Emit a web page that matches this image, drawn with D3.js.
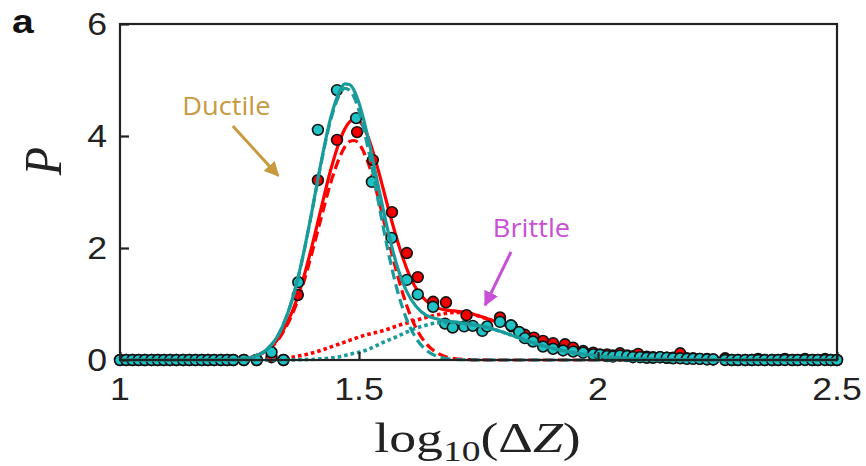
<!DOCTYPE html>
<html>
<head>
<meta charset="utf-8">
<script src="https://cdn.jsdelivr.net/npm/d3@7"></script>
<style>
  body { margin: 0; background: #fff; }
  svg { display: block; }
</style>
</head>
<body>
<script>
// Fitted probability densities on a shared log10(ΔZ) grid
const curveX = [1.00, 1.20, 1.25, 1.28, 1.30, 1.31, 1.33, 1.34, 1.36, 1.38, 1.40, 1.42, 1.44, 1.46, 1.47, 1.48, 1.49, 1.50, 1.52, 1.54,
                1.56, 1.58, 1.60, 1.62, 1.64, 1.66, 1.68, 1.70, 1.73, 1.76, 1.80, 1.85, 1.90, 1.95, 2.00, 2.05, 2.10, 2.20, 2.30, 2.50];

const tealTotal   = [0, 0.001, 0.014, 0.06, 0.14, 0.21, 0.43, 0.60, 1.07, 1.75, 2.59, 3.50, 4.30, 4.81, 4.93, 4.92, 4.81, 4.59, 3.93, 3.12,
                     2.33, 1.67, 1.22, 0.95, 0.80, 0.74, 0.70, 0.68, 0.64, 0.60, 0.50, 0.35, 0.22, 0.13, 0.07, 0.035, 0.015, 0.002, 0, 0];
const tealDuctile = [0, 0.001, 0.014, 0.06, 0.14, 0.21, 0.43, 0.60, 1.07, 1.74, 2.58, 3.48, 4.26, 4.75, 4.85, 4.82, 4.69, 4.45, 3.74, 2.85,
                     1.98, 1.25, 0.72, 0.38, 0.18, 0.077, 0.03, 0.01, 0.003, 0, 0, 0, 0, 0, 0, 0, 0, 0, 0, 0];
const tealBrittle = [0, 0, 0, 0, 0, 0, 0, 0, 0.002, 0.005, 0.01, 0.02, 0.035, 0.06, 0.08, 0.10, 0.12, 0.14, 0.19, 0.27,
                     0.35, 0.42, 0.50, 0.57, 0.62, 0.66, 0.67, 0.67, 0.64, 0.60, 0.50, 0.35, 0.22, 0.13, 0.07, 0.035, 0.015, 0.002, 0, 0];

const redTotal    = [0, 0.001, 0.017, 0.06, 0.135, 0.19, 0.37, 0.51, 0.86, 1.35, 1.98, 2.68, 3.37, 3.92, 4.12, 4.25, 4.30, 4.27, 3.96, 3.40,
                     2.75, 2.14, 1.63, 1.27, 1.06, 0.945, 0.894, 0.876, 0.836, 0.761, 0.64, 0.48, 0.32, 0.19, 0.10, 0.05, 0.02, 0.003, 0, 0];
const redDuctile  = [0, 0.001, 0.017, 0.06, 0.13, 0.18, 0.35, 0.48, 0.81, 1.27, 1.86, 2.51, 3.14, 3.63, 3.80, 3.90, 3.92, 3.86, 3.50, 2.90,
                     2.20, 1.53, 0.97, 0.56, 0.30, 0.145, 0.064, 0.026, 0.006, 0.001, 0, 0, 0, 0, 0, 0, 0, 0, 0, 0];
const redBrittle  = [0, 0, 0, 0, 0.005, 0.01, 0.02, 0.03, 0.05, 0.08, 0.12, 0.17, 0.23, 0.29, 0.32, 0.35, 0.38, 0.41, 0.46, 0.50,
                     0.55, 0.61, 0.66, 0.71, 0.76, 0.80, 0.83, 0.85, 0.83, 0.76, 0.64, 0.48, 0.32, 0.19, 0.10, 0.05, 0.02, 0.003, 0, 0];

// Measured histogram points [log10(ΔZ), P]
const redPoints = [
  [1.000,0],[1.013,0],[1.026,0],[1.039,0],[1.052,0],[1.066,0],[1.079,0],[1.092,0],[1.105,0],[1.118,0],
  [1.132,0],[1.145,0],[1.158,0],[1.171,0],[1.184,0],[1.197,0],[1.211,0],[1.224,0],[1.237,0],[1.259,0],
  [1.286,0],[1.317,0.05],[1.342,0],
  [1.372,1.16],[1.414,3.21],[1.454,3.93],[1.496,4.07],[1.529,3.57],[1.569,2.64],[1.600,1.91],[1.623,1.48],
  [1.655,1.04],[1.682,1.03],[1.725,0.80],[1.795,0.76],[1.820,0.60],[1.847,0.45],[1.866,0.40],[1.885,0.34],
  [1.906,0.30],[1.931,0.28],[1.948,0.22],[1.969,0.16],[1.990,0.13],
  [2.004,0.10],[2.019,0.10],[2.031,0.08],[2.046,0.12],[2.061,0.08],[2.073,0.07],[2.084,0.11],[2.102,0.06],
  [2.115,0.05],[2.130,0.05],[2.144,0.04],[2.157,0.04],[2.172,0.12],[2.186,0.03],[2.199,0.03],[2.213,0.02],
  [2.228,0.02],[2.241,0.01],
  [2.266,0.03],[2.280,0],[2.293,0],[2.308,0],[2.322,0],[2.335,0.02],[2.349,0],[2.364,0],[2.377,0],
  [2.391,0.02],[2.406,0],[2.418,0],[2.433,0.02],[2.448,0],[2.460,0],[2.475,0.02],[2.487,0],[2.500,0]
];
const tealPoints = [
  [1.000,0],[1.013,0],[1.026,0],[1.039,0],[1.052,0],[1.066,0],[1.079,0],[1.092,0],[1.105,0],[1.118,0],
  [1.132,0],[1.145,0],[1.158,0],[1.171,0],[1.184,0],[1.197,0],[1.211,0],[1.224,0],[1.237,0],[1.259,0],
  [1.286,0],[1.317,0.14],[1.342,0],
  [1.373,1.39],[1.414,4.11],[1.454,4.82],[1.494,4.32],[1.527,3.18],[1.568,2.18],[1.600,1.43],[1.623,1.17],
  [1.655,0.95],[1.680,0.65],[1.696,0.58],[1.720,0.60],[1.738,0.61],[1.758,0.52],[1.768,0.60],[1.795,0.68],
  [1.818,0.62],[1.835,0.50],[1.847,0.39],[1.864,0.33],[1.885,0.24],[1.906,0.20],[1.927,0.17],[1.948,0.15],
  [1.969,0.13],[1.990,0.10],
  [2.004,0.09],[2.019,0.07],[2.031,0.06],[2.046,0.08],[2.061,0.07],[2.073,0.05],[2.088,0.05],[2.102,0.04],
  [2.115,0.04],[2.130,0.05],[2.144,0.04],[2.157,0.03],[2.172,0.03],[2.186,0.02],[2.199,0.02],[2.213,0.02],
  [2.228,0.01],[2.241,0.01],
  [2.266,0],[2.280,0],[2.293,0],[2.308,0],[2.322,0],[2.335,0],[2.349,0],[2.364,0],[2.377,0],
  [2.391,0],[2.406,0],[2.418,0],[2.433,0],[2.448,0],[2.460,0],[2.475,0],[2.487,0],[2.500,0]
];

const xTicks = [1, 1.5, 2, 2.5];
const xTickLabels = ["1", "1.5", "2", "2.5"];
const yTicks = [0, 2, 4, 6];
const yTickLabels = ["0", "2", "4", "6"];

const W = 866, H = 466;
const SX = 1.15; // horizontal stretch of the typesetting

const svg = d3.select("body").append("svg").attr("width", W).attr("height", H);

const x = d3.scaleLinear().domain([1, 2.5]).range([120, 837]);
const y = d3.scaleLinear().domain([0, 6]).range([360, 24]);

const TEAL_LINE = "#1a9b9b";
const TEAL_FILL = "#1fc3c6";
const RED_LINE = "#ff0000";
const RED_FILL = "#f20000";

const line = d3.line().x(d => x(d[0])).y(d => y(d[1])).curve(d3.curveMonotoneX);
const zipCurve = vals => curveX.map((v, i) => [v, vals[i]]);

const plot = svg.append("g");

function drawCurves(color, ductile, brittle, total) {
  plot.append("path").attr("d", line(zipCurve(ductile)))
    .attr("fill", "none").attr("stroke", color).attr("stroke-width", 3.2)
    .attr("stroke-dasharray", "10,5");
  plot.append("path").attr("d", line(zipCurve(brittle)))
    .attr("fill", "none").attr("stroke", color).attr("stroke-width", 3.6)
    .attr("stroke-dasharray", "3.6,3");
  plot.append("path").attr("d", line(zipCurve(total)))
    .attr("fill", "none").attr("stroke", color).attr("stroke-width", 3.2);
}
function drawPoints(points, fill) {
  plot.append("g").selectAll("circle").data(points).join("circle")
    .attr("cx", d => x(d[0])).attr("cy", d => y(d[1])).attr("r", 5.4)
    .attr("fill", fill).attr("stroke", "#111").attr("stroke-width", 1.6);
}

// Axis frame
svg.append("rect").attr("x", x(1)).attr("y", y(6))
  .attr("width", x(2.5) - x(1)).attr("height", y(0) - y(6))
  .attr("fill", "none").attr("stroke", "#222").attr("stroke-width", 2.2);

drawCurves(RED_LINE, redDuctile, redBrittle, redTotal);
drawPoints(redPoints, RED_FILL);
drawPoints(tealPoints, TEAL_FILL);
drawCurves(TEAL_LINE, tealDuctile, tealBrittle, tealTotal);

// Inward ticks on the bottom and left axes
const axes = svg.append("g");
const xAxis = d3.axisBottom(x).tickValues(xTicks).tickSize(-8).tickFormat("");
const yAxis = d3.axisLeft(y).tickValues(yTicks).tickSize(-9).tickFormat("");
axes.append("g").attr("transform", `translate(0,${y(0)})`).call(xAxis)
  .call(g => g.select(".domain").remove())
  .call(g => g.selectAll("line").attr("stroke", "#222").attr("stroke-width", 2.2));
axes.append("g").attr("transform", `translate(${x(1)},0)`).call(yAxis)
  .call(g => g.select(".domain").remove())
  .call(g => g.selectAll("line").attr("stroke", "#222").attr("stroke-width", 2.2));

const sansFont = "'Liberation Sans', Arial, Helvetica, sans-serif";
const serifFont = "'Liberation Serif', 'Times New Roman', serif";

// Tick labels
xTicks.forEach((t, i) => {
  svg.append("text")
    .attr("transform", `translate(${x(t)},${y(0) + 40}) scale(${SX},1)`)
    .attr("text-anchor", "middle").attr("font-family", sansFont).attr("font-size", 31)
    .attr("fill", "#222").text(xTickLabels[i]);
});
yTicks.forEach((t, i) => {
  svg.append("text")
    .attr("transform", `translate(${x(1) - 13},${y(t) + 11}) scale(${SX},1)`)
    .attr("text-anchor", "end").attr("font-family", sansFont).attr("font-size", 31)
    .attr("fill", "#222").text(yTickLabels[i]);
});

// Axis titles
const xt = svg.append("text")
  .attr("transform", `translate(${(x(1) + x(2.5)) / 2 - 1},452) scale(1.25,1)`)
  .attr("text-anchor", "middle").attr("font-family", serifFont).attr("font-size", 43)
  .attr("fill", "#222");
xt.append("tspan").text("log");
xt.append("tspan").attr("font-size", 30).attr("dy", 9).text("10");
xt.append("tspan").attr("dy", -9).text("(Δ");
xt.append("tspan").attr("font-style", "italic").text("Z");
xt.append("tspan").text(")");

svg.append("text")
  .attr("transform", `translate(61,${y(3.55)}) rotate(-90) scale(1,${SX})`)
  .attr("text-anchor", "middle").attr("font-family", serifFont).attr("font-style", "italic")
  .attr("font-size", 46).attr("fill", "#222").text("P");

// Panel letter
svg.append("text")
  .attr("transform", `translate(12,33) scale(${SX},1)`)
  .attr("font-family", sansFont).attr("font-weight", "bold").attr("font-size", 34)
  .attr("fill", "#111").text("a");

// Annotations
const annFont = "'Open Sans', 'Noto Sans', sans-serif";
const GOLD = "#c79a3f";
const MAGENTA = "#c94fd6";

const defs = svg.append("defs");
function arrowHead(id, color) {
  defs.append("marker").attr("id", id).attr("viewBox", "0 0 10 10")
    .attr("refX", 9).attr("refY", 5).attr("markerWidth", 5).attr("markerHeight", 5)
    .attr("markerUnits", "strokeWidth").attr("orient", "auto")
    .append("path").attr("d", "M0,0 L10,5 L0,10 Z").attr("fill", color);
}
arrowHead("headGold", GOLD);
arrowHead("headMagenta", MAGENTA);

svg.append("text")
  .attr("transform", `translate(${x(1.130)},${y(4.375)}) scale(1.05,1)`)
  .attr("font-family", annFont).attr("font-size", 26).attr("fill", GOLD).text("Ductile");
svg.append("line")
  .attr("x1", x(1.236)).attr("y1", y(4.18)).attr("x2", x(1.331)).attr("y2", y(3.29))
  .attr("stroke", GOLD).attr("stroke-width", 3).attr("marker-end", "url(#headGold)");

svg.append("text")
  .attr("transform", `translate(${x(1.780)},${y(2.196)}) scale(1.05,1)`)
  .attr("font-family", annFont).attr("font-size", 26).attr("fill", MAGENTA).text("Brittle");
svg.append("line")
  .attr("x1", x(1.818)).attr("y1", y(1.93)).attr("x2", x(1.764)).attr("y2", y(0.98))
  .attr("stroke", MAGENTA).attr("stroke-width", 3).attr("marker-end", "url(#headMagenta)");
</script>
</body>
</html>
